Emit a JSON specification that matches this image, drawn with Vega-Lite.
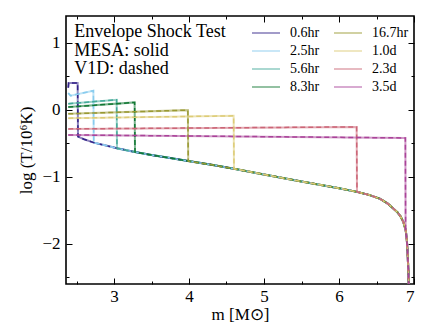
{
  "$schema": "https://vega.github.io/schema/vega-lite/v6.json",
  "width": 348,
  "height": 268,
  "autosize": {"type": "none"},
  "padding": {"left": 66, "top": 16, "right": 22, "bottom": 43},
  "background": "white",
  "config": {
    "font": "Liberation Serif",
    "view": {"stroke": "black", "strokeWidth": 1.6},
    "axis": {
      "domain": false,
      "grid": false,
      "tickColor": "black",
      "tickWidth": 1,
      "labelFont": "Liberation Serif",
      "labelFontSize": 17,
      "labelColor": "black",
      "titleFont": "Liberation Serif",
      "titleFontSize": 17,
      "titleFontWeight": "normal",
      "titleColor": "black"
    },
    "legend": {
      "labelFont": "Liberation Serif",
      "labelFontSize": 14,
      "labelColor": "black"
    }
  },
  "data": {
    "values": [
      {"s": "0.6hr", "m": 2.39, "t": 0.33}, {"s": "0.6hr", "m": 2.395, "t": 0.4}, {"s": "0.6hr", "m": 2.515, "t": 0.4}, {"s": "0.6hr", "m": 2.52, "t": -0.4},
      {"s": "0.6hr", "m": 2.6, "t": -0.44}, {"s": "0.6hr", "m": 2.73, "t": -0.49}, {"s": "0.6hr", "m": 2.88, "t": -0.53}, {"s": "0.6hr", "m": 3.04, "t": -0.575},
      {"s": "0.6hr", "m": 3.28, "t": -0.63}, {"s": "0.6hr", "m": 3.5, "t": -0.675}, {"s": "0.6hr", "m": 3.75, "t": -0.72}, {"s": "0.6hr", "m": 3.99, "t": -0.765},
      {"s": "0.6hr", "m": 4.3, "t": -0.82}, {"s": "0.6hr", "m": 4.6, "t": -0.88}, {"s": "0.6hr", "m": 5.0, "t": -0.965}, {"s": "0.6hr", "m": 5.5, "t": -1.07},
      {"s": "0.6hr", "m": 6.0, "t": -1.17}, {"s": "0.6hr", "m": 6.24, "t": -1.225}, {"s": "0.6hr", "m": 6.4, "t": -1.27}, {"s": "0.6hr", "m": 6.55, "t": -1.33},
      {"s": "0.6hr", "m": 6.65, "t": -1.4}, {"s": "0.6hr", "m": 6.72, "t": -1.47}, {"s": "0.6hr", "m": 6.78, "t": -1.53}, {"s": "0.6hr", "m": 6.82, "t": -1.59},
      {"s": "0.6hr", "m": 6.86, "t": -1.68}, {"s": "0.6hr", "m": 6.89, "t": -1.8}, {"s": "0.6hr", "m": 6.905, "t": -1.95}, {"s": "0.6hr", "m": 6.915, "t": -2.15},
      {"s": "0.6hr", "m": 6.925, "t": -2.4}, {"s": "0.6hr", "m": 6.93, "t": -2.6},

      {"s": "2.5hr", "m": 2.39, "t": 0.25}, {"s": "2.5hr", "m": 2.42, "t": 0.21}, {"s": "2.5hr", "m": 2.725, "t": 0.285}, {"s": "2.5hr", "m": 2.73, "t": -0.49},
      {"s": "2.5hr", "m": 2.88, "t": -0.53}, {"s": "2.5hr", "m": 3.04, "t": -0.575},
      {"s": "2.5hr", "m": 3.28, "t": -0.63}, {"s": "2.5hr", "m": 3.5, "t": -0.675}, {"s": "2.5hr", "m": 3.75, "t": -0.72}, {"s": "2.5hr", "m": 3.99, "t": -0.765},
      {"s": "2.5hr", "m": 4.3, "t": -0.82}, {"s": "2.5hr", "m": 4.6, "t": -0.88}, {"s": "2.5hr", "m": 5.0, "t": -0.965}, {"s": "2.5hr", "m": 5.5, "t": -1.07},
      {"s": "2.5hr", "m": 6.0, "t": -1.17}, {"s": "2.5hr", "m": 6.24, "t": -1.225}, {"s": "2.5hr", "m": 6.4, "t": -1.27}, {"s": "2.5hr", "m": 6.55, "t": -1.33},
      {"s": "2.5hr", "m": 6.65, "t": -1.4}, {"s": "2.5hr", "m": 6.72, "t": -1.47}, {"s": "2.5hr", "m": 6.78, "t": -1.53}, {"s": "2.5hr", "m": 6.82, "t": -1.59},
      {"s": "2.5hr", "m": 6.86, "t": -1.68}, {"s": "2.5hr", "m": 6.89, "t": -1.8}, {"s": "2.5hr", "m": 6.905, "t": -1.95}, {"s": "2.5hr", "m": 6.915, "t": -2.15},
      {"s": "2.5hr", "m": 6.925, "t": -2.4}, {"s": "2.5hr", "m": 6.93, "t": -2.6},

      {"s": "5.6hr", "m": 2.39, "t": 0.09}, {"s": "5.6hr", "m": 3.035, "t": 0.15}, {"s": "5.6hr", "m": 3.04, "t": -0.575},
      {"s": "5.6hr", "m": 3.28, "t": -0.63}, {"s": "5.6hr", "m": 3.5, "t": -0.675}, {"s": "5.6hr", "m": 3.75, "t": -0.72}, {"s": "5.6hr", "m": 3.99, "t": -0.765},
      {"s": "5.6hr", "m": 4.3, "t": -0.82}, {"s": "5.6hr", "m": 4.6, "t": -0.88}, {"s": "5.6hr", "m": 5.0, "t": -0.965}, {"s": "5.6hr", "m": 5.5, "t": -1.07},
      {"s": "5.6hr", "m": 6.0, "t": -1.17}, {"s": "5.6hr", "m": 6.24, "t": -1.225}, {"s": "5.6hr", "m": 6.4, "t": -1.27}, {"s": "5.6hr", "m": 6.55, "t": -1.33},
      {"s": "5.6hr", "m": 6.65, "t": -1.4}, {"s": "5.6hr", "m": 6.72, "t": -1.47}, {"s": "5.6hr", "m": 6.78, "t": -1.53}, {"s": "5.6hr", "m": 6.82, "t": -1.59},
      {"s": "5.6hr", "m": 6.86, "t": -1.68}, {"s": "5.6hr", "m": 6.89, "t": -1.8}, {"s": "5.6hr", "m": 6.905, "t": -1.95}, {"s": "5.6hr", "m": 6.915, "t": -2.15},
      {"s": "5.6hr", "m": 6.925, "t": -2.4}, {"s": "5.6hr", "m": 6.93, "t": -2.6},

      {"s": "8.3hr", "m": 2.39, "t": 0.04}, {"s": "8.3hr", "m": 3.275, "t": 0.11}, {"s": "8.3hr", "m": 3.28, "t": -0.63},
      {"s": "8.3hr", "m": 3.5, "t": -0.675}, {"s": "8.3hr", "m": 3.75, "t": -0.72}, {"s": "8.3hr", "m": 3.99, "t": -0.765},
      {"s": "8.3hr", "m": 4.3, "t": -0.82}, {"s": "8.3hr", "m": 4.6, "t": -0.88}, {"s": "8.3hr", "m": 5.0, "t": -0.965}, {"s": "8.3hr", "m": 5.5, "t": -1.07},
      {"s": "8.3hr", "m": 6.0, "t": -1.17}, {"s": "8.3hr", "m": 6.24, "t": -1.225}, {"s": "8.3hr", "m": 6.4, "t": -1.27}, {"s": "8.3hr", "m": 6.55, "t": -1.33},
      {"s": "8.3hr", "m": 6.65, "t": -1.4}, {"s": "8.3hr", "m": 6.72, "t": -1.47}, {"s": "8.3hr", "m": 6.78, "t": -1.53}, {"s": "8.3hr", "m": 6.82, "t": -1.59},
      {"s": "8.3hr", "m": 6.86, "t": -1.68}, {"s": "8.3hr", "m": 6.89, "t": -1.8}, {"s": "8.3hr", "m": 6.905, "t": -1.95}, {"s": "8.3hr", "m": 6.915, "t": -2.15},
      {"s": "8.3hr", "m": 6.925, "t": -2.4}, {"s": "8.3hr", "m": 6.93, "t": -2.6},

      {"s": "16.7hr", "m": 2.39, "t": -0.06}, {"s": "16.7hr", "m": 3.985, "t": -0.005}, {"s": "16.7hr", "m": 3.99, "t": -0.765},
      {"s": "16.7hr", "m": 4.3, "t": -0.82}, {"s": "16.7hr", "m": 4.6, "t": -0.88}, {"s": "16.7hr", "m": 5.0, "t": -0.965}, {"s": "16.7hr", "m": 5.5, "t": -1.07},
      {"s": "16.7hr", "m": 6.0, "t": -1.17}, {"s": "16.7hr", "m": 6.24, "t": -1.225}, {"s": "16.7hr", "m": 6.4, "t": -1.27}, {"s": "16.7hr", "m": 6.55, "t": -1.33},
      {"s": "16.7hr", "m": 6.65, "t": -1.4}, {"s": "16.7hr", "m": 6.72, "t": -1.47}, {"s": "16.7hr", "m": 6.78, "t": -1.53}, {"s": "16.7hr", "m": 6.82, "t": -1.59},
      {"s": "16.7hr", "m": 6.86, "t": -1.68}, {"s": "16.7hr", "m": 6.89, "t": -1.8}, {"s": "16.7hr", "m": 6.905, "t": -1.95}, {"s": "16.7hr", "m": 6.915, "t": -2.15},
      {"s": "16.7hr", "m": 6.925, "t": -2.4}, {"s": "16.7hr", "m": 6.93, "t": -2.6},

      {"s": "1.0d", "m": 2.39, "t": -0.125}, {"s": "1.0d", "m": 4.595, "t": -0.09}, {"s": "1.0d", "m": 4.6, "t": -0.88},
      {"s": "1.0d", "m": 5.0, "t": -0.965}, {"s": "1.0d", "m": 5.5, "t": -1.07},
      {"s": "1.0d", "m": 6.0, "t": -1.17}, {"s": "1.0d", "m": 6.24, "t": -1.225}, {"s": "1.0d", "m": 6.4, "t": -1.27}, {"s": "1.0d", "m": 6.55, "t": -1.33},
      {"s": "1.0d", "m": 6.65, "t": -1.4}, {"s": "1.0d", "m": 6.72, "t": -1.47}, {"s": "1.0d", "m": 6.78, "t": -1.53}, {"s": "1.0d", "m": 6.82, "t": -1.59},
      {"s": "1.0d", "m": 6.86, "t": -1.68}, {"s": "1.0d", "m": 6.89, "t": -1.8}, {"s": "1.0d", "m": 6.905, "t": -1.95}, {"s": "1.0d", "m": 6.915, "t": -2.15},
      {"s": "1.0d", "m": 6.925, "t": -2.4}, {"s": "1.0d", "m": 6.93, "t": -2.6},

      {"s": "2.3d", "m": 2.39, "t": -0.285}, {"s": "2.3d", "m": 6.235, "t": -0.255}, {"s": "2.3d", "m": 6.24, "t": -1.225},
      {"s": "2.3d", "m": 6.4, "t": -1.27}, {"s": "2.3d", "m": 6.55, "t": -1.33},
      {"s": "2.3d", "m": 6.65, "t": -1.4}, {"s": "2.3d", "m": 6.72, "t": -1.47}, {"s": "2.3d", "m": 6.78, "t": -1.53}, {"s": "2.3d", "m": 6.82, "t": -1.59},
      {"s": "2.3d", "m": 6.86, "t": -1.68}, {"s": "2.3d", "m": 6.89, "t": -1.8}, {"s": "2.3d", "m": 6.905, "t": -1.95}, {"s": "2.3d", "m": 6.915, "t": -2.15},
      {"s": "2.3d", "m": 6.925, "t": -2.4}, {"s": "2.3d", "m": 6.93, "t": -2.6},

      {"s": "3.5d", "m": 2.39, "t": -0.375}, {"s": "3.5d", "m": 6.885, "t": -0.42}, {"s": "3.5d", "m": 6.888, "t": -1.79},
      {"s": "3.5d", "m": 6.905, "t": -1.95}, {"s": "3.5d", "m": 6.915, "t": -2.15},
      {"s": "3.5d", "m": 6.925, "t": -2.4}, {"s": "3.5d", "m": 6.93, "t": -2.6}
    ]
  },
  "layer": [
    {
      "mark": {"type": "line", "strokeWidth": 2, "opacity": 0.55, "clip": true},
      "encoding": {
        "x": {
          "field": "m", "type": "quantitative",
          "scale": {"domain": [2.36, 7], "nice": false, "zero": false},
          "axis": {
            "orient": "bottom",
            "title": "m [M⊙]",
            "values": [2.5, 3, 3.5, 4, 4.5, 5, 5.5, 6, 6.5, 7],
            "labelExpr": "datum.value % 1 === 0 ? format(datum.value, 'd') : ''",
            "tickSize": {"condition": {"test": "datum.value % 1 === 0", "value": -6}, "value": -3},
            "labelPadding": 10,
            "titlePadding": 2
          }
        },
        "y": {
          "field": "t", "type": "quantitative",
          "scale": {"domain": [-2.6, 1.4], "nice": false, "zero": false},
          "axis": {
            "orient": "left",
            "title": "log (T/10⁶K)",
            "values": [-2.5, -2, -1.5, -1, -0.5, 0, 0.5, 1],
            "labelExpr": "datum.value % 1 === 0 ? format(datum.value, 'd') : ''",
            "tickSize": {"condition": {"test": "datum.value % 1 === 0", "value": -6}, "value": -3},
            "labelPadding": 12,
            "titlePadding": 6
          }
        },
        "color": {
          "field": "s", "type": "nominal",
          "scale": {
            "domain": ["0.6hr", "2.5hr", "5.6hr", "8.3hr", "16.7hr", "1.0d", "2.3d", "3.5d"],
            "range": ["#332288", "#88CCEE", "#44AA99", "#117733", "#999933", "#DDCC77", "#CC6677", "#AA4499"]
          },
          "legend": {
            "title": null,
            "orient": "none",
            "legendX": 189,
            "legendY": 6,
            "columns": 2,
            "padding": 0,
            "symbolType": "M-1.4,0H1.4",
            "symbolSize": 400,
            "symbolStrokeWidth": 1.2,
            "symbolOpacity": 0.75,
            "labelOffset": 13,
            "columnPadding": 11,
            "rowPadding": -0.7
          }
        },
        "detail": {"field": "s"}
      }
    },
    {
      "mark": {"type": "line", "strokeWidth": 1.5, "strokeDash": [5, 3], "clip": true},
      "encoding": {
        "x": {
          "field": "m", "type": "quantitative",
          "axis": {
            "orient": "top",
            "title": null,
            "labels": false,
            "values": [2.5, 3, 3.5, 4, 4.5, 5, 5.5, 6, 6.5, 7],
            "tickSize": {"condition": {"test": "datum.value % 1 === 0", "value": -6}, "value": -3}
          }
        },
        "y": {
          "field": "t", "type": "quantitative",
          "axis": {
            "orient": "right",
            "title": null,
            "labels": false,
            "values": [-2.5, -2, -1.5, -1, -0.5, 0, 0.5, 1],
            "tickSize": {"condition": {"test": "datum.value % 1 === 0", "value": -6}, "value": -3}
          }
        },
        "color": {"field": "s", "type": "nominal"},
        "detail": {"field": "s"}
      }
    },
    {
      "data": {"values": [{}]},
      "mark": {
        "type": "text",
        "text": ["Envelope Shock Test", "MESA: solid", "V1D: dashed"],
        "align": "left",
        "baseline": "top",
        "fontSize": 18,
        "lineHeight": 18.5,
        "font": "Liberation Serif",
        "color": "black"
      },
      "encoding": {
        "x": {"datum": 2.47, "type": "quantitative", "axis": null},
        "y": {"datum": 1.29, "type": "quantitative", "axis": null}
      }
    }
  ],
  "resolve": {"axis": {"x": "independent", "y": "independent"}}
}
